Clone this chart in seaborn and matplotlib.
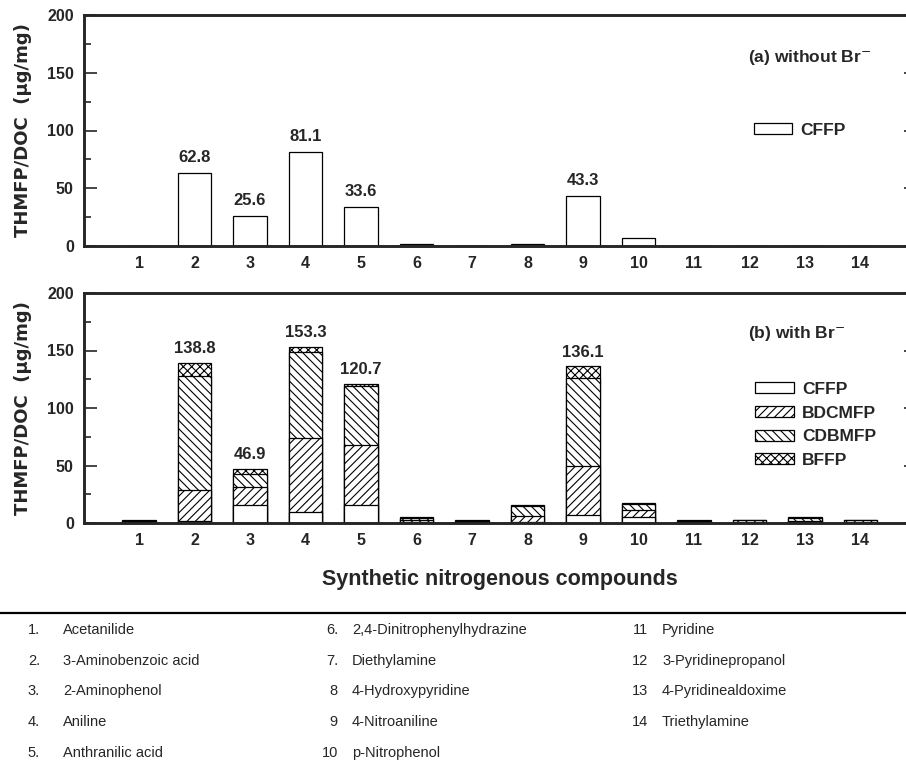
import matplotlib
matplotlib.use("Agg")
import pandas as pd
import matplotlib.pyplot as plt
from matplotlib.lines import Line2D
from matplotlib.ticker import MultipleLocator
import seaborn as sns

# data (THMFP/DOC, ug/mg)
compounds = list(range(1, 15))
cffp_no_br = [0, 62.8, 25.6, 81.1, 33.6, 2.0, 0.3, 1.5, 43.3, 7.2, 0, 0, 0, 0]
cffp_br = [0.3, 2.0, 16.0, 9.5, 15.5, 1.0, 0.3, 0.5, 7.0, 5.0, 0.3, 0.3, 0.5, 0.3]
bdcmfp_br = [0.5, 27.0, 15.0, 64.5, 52.5, 1.5, 0.7, 5.5, 43.0, 6.5, 0.7, 0.8, 1.5, 0.8]
cdbmfp_br = [1.2, 99.0, 11.5, 74.5, 51.0, 2.0, 1.0, 8.5, 76.0, 5.0, 1.0, 1.2, 2.0, 1.2]
bffp_br = [1.0, 10.8, 4.4, 4.8, 1.7, 1.0, 0.5, 1.0, 10.1, 0.6, 0.5, 0.7, 1.0, 0.7]
labeled = [2, 3, 4, 5, 9]

names = ["Acetanilide", "3-Aminobenzoic acid", "2-Aminophenol", "Aniline",
         "Anthranilic acid", "2,4-Dinitrophenylhydrazine", "Diethylamine",
         "4-Hydroxypyridine", "4-Nitroaniline", "p-Nitrophenol", "Pyridine",
         "3-Pyridinepropanol", "4-Pyridinealdoxime", "Triethylamine"]
numbers = ["1.", "2.", "3.", "4.", "5.", "6.", "7.", "8", "9", "10",
           "11", "12", "13", "14"]

df = pd.DataFrame({"compound": compounds, "CFFP0": cffp_no_br,
                   "CFFP": cffp_br, "BDCMFP": bdcmfp_br,
                   "CDBMFP": cdbmfp_br, "BFFP": bffp_br})
df["cum1"] = df["CFFP"]
df["cum2"] = df["cum1"] + df["BDCMFP"]
df["cum3"] = df["cum2"] + df["CDBMFP"]
df["cum4"] = df["cum3"] + df["BFFP"]

sns.set_style("ticks")
plt.rcParams["font.family"] = ["Liberation Sans", "DejaVu Sans"]
plt.rcParams["hatch.linewidth"] = 0.8

fig = plt.figure(figsize=(9.06, 7.65), dpi=100)
W, H = 906, 765
ax1 = fig.add_axes([83.5 / W, 1 - 246 / H, 832.5 / W, 231 / H])
ax2 = fig.add_axes([83.5 / W, 1 - 523 / H, 832.5 / W, 230 / H])

bar_kw = dict(native_scale=True, width=0.6, color="white", edgecolor="black",
              linewidth=0.9, errorbar=None, saturation=1)

# (a) without bromide
sns.barplot(data=df, x="compound", y="CFFP0", ax=ax1, label="CFFP", **bar_kw)
for c in labeled:
    v = df.loc[df.compound == c, "CFFP0"].iloc[0]
    ax1.annotate(f"{v:.1f}", (c, v), xytext=(0, 6), textcoords="offset points",
                 ha="center", va="bottom", fontsize=12, fontweight="bold")

# (b) with bromide, stacked by overdrawing cumulative totals
layers = [("cum4", "xxxx", "BFFP"), ("cum3", "\\\\\\\\", "CDBMFP"),
          ("cum2", "////", "BDCMFP"), ("cum1", "", "CFFP")]
for col, hatch, lab in layers:
    sns.barplot(data=df, x="compound", y=col, ax=ax2, label=lab, hatch=hatch,
                **bar_kw)
for c in labeled:
    v = df.loc[df.compound == c, "cum4"].iloc[0]
    ax2.annotate(f"{v:.1f}", (c, v), xytext=(0, 5), textcoords="offset points",
                 ha="center", va="bottom", fontsize=12, fontweight="bold")

for ax in (ax1, ax2):
    ax.set_xlim(0, 15)
    ax.set_ylim(0, 200)
    ax.set_xticks(compounds)
    ax.set_xticklabels([str(c) for c in compounds], fontsize=11.5, fontweight="bold")
    ax.yaxis.set_major_locator(MultipleLocator(50))
    ax.yaxis.set_minor_locator(MultipleLocator(25))
    ax.tick_params(axis="x", length=0, pad=7)
    ax.tick_params(axis="y", which="major", direction="in", length=9, width=1.2,
                   labelsize=11.5, pad=7, right=True)
    ax.tick_params(axis="y", which="minor", direction="in", length=5, width=1.2,
                   right=False)
    for t in ax.get_yticklabels():
        t.set_fontweight("bold")
    for s in ax.spines.values():
        s.set_visible(True)
        s.set_linewidth(2.1)
    ax.set_xlabel("")
    ax.set_ylabel("THMFP/DOC  (\u00b5g/mg)", fontsize=13, fontweight="bold",
                  family=["DejaVu Sans"])
    ax.yaxis.set_label_coords(-0.062, 0.5)

ax1.text(0.798, 0.814, "(a) without Br$^{-}$", transform=ax1.transAxes,
         fontsize=12.5, fontweight="bold", va="center")
ax2.text(0.798, 0.826, "(b) with Br$^{-}$", transform=ax2.transAxes,
         fontsize=12.5, fontweight="bold", va="center")

leg_kw = dict(frameon=False, loc="center left", borderpad=0, borderaxespad=0,
              handlelength=2.2, handleheight=0.6, handletextpad=0.5,
              labelspacing=0.5, prop={"weight": "bold", "size": 12.5})
h1, l1 = ax1.get_legend_handles_labels()
ax1.legend(h1, l1, bbox_to_anchor=(0.805, 0.502), **leg_kw)
h2, l2 = ax2.get_legend_handles_labels()
ax2.legend(h2[::-1], l2[::-1], bbox_to_anchor=(0.807, 0.426), **leg_kw)

fig.text(500 / W, 1 - 580 / H, "Synthetic nitrogenous compounds",
         ha="center", va="center", fontsize=15.5, fontweight="bold")
fig.add_artist(Line2D([0, 1], [1 - 613 / H] * 2, color="black", lw=1.6,
                      transform=fig.transFigure))

# compound key below the chart
num_x = [40, 338, 648]
name_x = [63, 352, 662]
for i, (num, name) in enumerate(zip(numbers, names)):
    col = 0 if i < 5 else (1 if i < 10 else 2)
    row = i - col * 5
    y = 1 - (630 + 30.7 * row) / H
    fig.text(num_x[col] / W, y, num, ha="right", va="center", fontsize=10.5)
    fig.text(name_x[col] / W, y, name, ha="left", va="center", fontsize=10.5)

fig.savefig("out.png", dpi=100)
